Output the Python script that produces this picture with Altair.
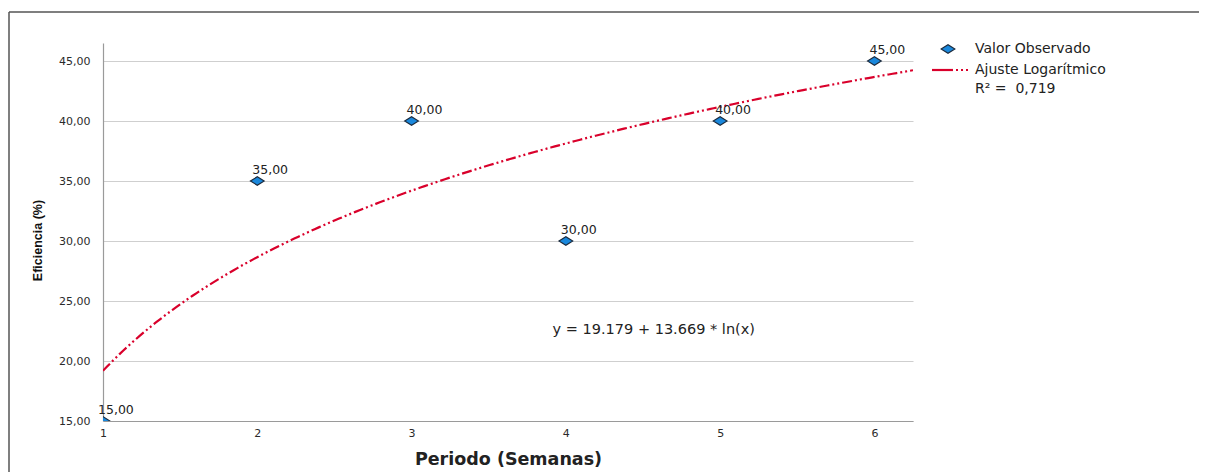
import altair as alt
import numpy as np
import pandas as pd

# Observed values
periods = [1, 2, 3, 4, 5, 6]
efficiency = [15, 35, 40, 30, 40, 45]

# Logarithmic fit (as stated on chart)
fit_a = 19.179
fit_b = 13.669
r2_text = "R² =\u00a0\u00a00,719"
equation_text = "y = 19.179 + 13.669 * ln(x)"
eq_pos_x = [4.57]
eq_pos_y = [22.6]

x_domain = [1, 6.25]
y_domain = [15, 46.5]
y_ticks = [15, 20, 25, 30, 35, 40, 45]
x_ticks = [1, 2, 3, 4, 5, 6]

FONT = "DejaVu Sans, Liberation Sans, sans-serif"
RED = "#d9002b"

obs = pd.DataFrame({
    "x": periods,
    "y": efficiency,
    "label": [f"{v:.2f}".replace(".", ",") for v in efficiency],
})

xs = np.linspace(x_domain[0], x_domain[1], 200)
fit = pd.DataFrame({"x": xs, "y": fit_a + fit_b * np.log(xs)})

W, H = 810, 378

xscale = alt.Scale(domain=x_domain, nice=False, zero=False)
yscale = alt.Scale(domain=y_domain, nice=False, zero=False)

xaxis = alt.Axis(
    values=x_ticks, format="d", title="Periodo (Semanas)", grid=False, ticks=False,
    labelFlush=False, labelPadding=6, labelFontSize=11, labelColor="#2a2a2a", labelFont=FONT,
    domainColor="#9a9a9a", domainWidth=1.2,
    titleFont=FONT, titleFontSize=17.5, titleFontWeight="bold", titleColor="#222",
    titleY=38, titleBaseline="middle",
)
yaxis = alt.Axis(
    values=y_ticks, title="Eficiencia (%)", grid=True, gridColor="#cfcfcf",
    ticks=False, labelPadding=13, labelFontSize=11, labelColor="#2a2a2a", labelFont=FONT,
    labelExpr="replace(format(datum.value, '.2f'), '.', ',')",
    domainColor="#9a9a9a", domainWidth=1.2,
    titleFont="Liberation Sans, Arial, sans-serif",
    titleFontSize=12.5, titleFontWeight="bold", titleColor="#111",
    titleX=-66, titleY=197, titleAngle=270, titleAlign="center", titleBaseline="middle",
)

curve = alt.Chart(fit).mark_line(
    color=RED, strokeWidth=2.2, strokeDash=[10, 3, 2, 3, 2, 3], clip=True
).encode(
    x=alt.X("x:Q", scale=xscale, axis=xaxis),
    y=alt.Y("y:Q", scale=yscale, axis=yaxis),
)

diamond = "M -1 0 L 0 -0.62 L 1 0 L 0 0.62 Z"

points = alt.Chart(obs).mark_point(
    shape=diamond, size=190, filled=True, fill="#1a88dc", stroke="#1b2a3d",
    strokeWidth=1.1, opacity=1, clip=True
).encode(x=alt.X("x:Q", scale=xscale), y=alt.Y("y:Q", scale=yscale))

labels = alt.Chart(obs).mark_text(
    align="left", baseline="middle", dx=-5, dy=-11, fontSize=12.5,
    font=FONT, color="#222"
).encode(x=alt.X("x:Q", scale=xscale), y=alt.Y("y:Q", scale=yscale), text="label:N")

eq = alt.Chart(pd.DataFrame({"x": eq_pos_x, "y": eq_pos_y, "t": [equation_text]})).mark_text(
    align="center", baseline="middle", fontSize=14.5, font=FONT, color="#222"
).encode(x=alt.X("x:Q", scale=xscale), y=alt.Y("y:Q", scale=yscale), text="t:N")

one = pd.DataFrame({"a": [0]})

leg_diamond = alt.Chart(one).mark_point(
    shape=diamond, size=190, filled=True, fill="#1a88dc", stroke="#1b2a3d",
    strokeWidth=1.1, opacity=1
).encode(x=alt.value(845), y=alt.value(6))

leg_line_solid = alt.Chart(one).mark_rule(color=RED, strokeWidth=2.2).encode(
    x=alt.value(829), x2=alt.value(850), y=alt.value(27)
)
leg_line_dots = alt.Chart(one).mark_rule(color=RED, strokeWidth=2.2, strokeDash=[2, 3]).encode(
    x=alt.value(853), x2=alt.value(866), y=alt.value(27)
)

leg_texts = pd.DataFrame({
    "t": ["Valor Observado", "Ajuste Logarítmico", r2_text],
    "py": [6, 27, 46],
})
leg_text = alt.Chart(leg_texts).mark_text(
    align="left", baseline="middle", fontSize=14, font=FONT, color="#222"
).encode(x=alt.value(872), y=alt.Y("py:Q", scale=None), text="t:N")

frame_top = alt.Chart(one).mark_rule(color="#555", strokeWidth=1.5).encode(
    x=alt.value(-94), x2=alt.value(1200), y=alt.value(-31)
)
frame_left = alt.Chart(one).mark_rule(color="#555", strokeWidth=1.5).encode(
    x=alt.value(-94), y=alt.value(-31), y2=alt.value(500)
)

chart = alt.layer(
    curve, points, labels, eq, leg_diamond, leg_line_solid, leg_line_dots,
    leg_text, frame_top, frame_left
).properties(
    width=W, height=H,
    autosize=alt.AutoSizeParams(type="none"),
    padding={"left": 95, "top": 35, "right": 286, "bottom": 51},
    background="white",
).configure_view(stroke=None)

chart.save("out.html", embed_options={"renderer": "svg", "actions": False})
